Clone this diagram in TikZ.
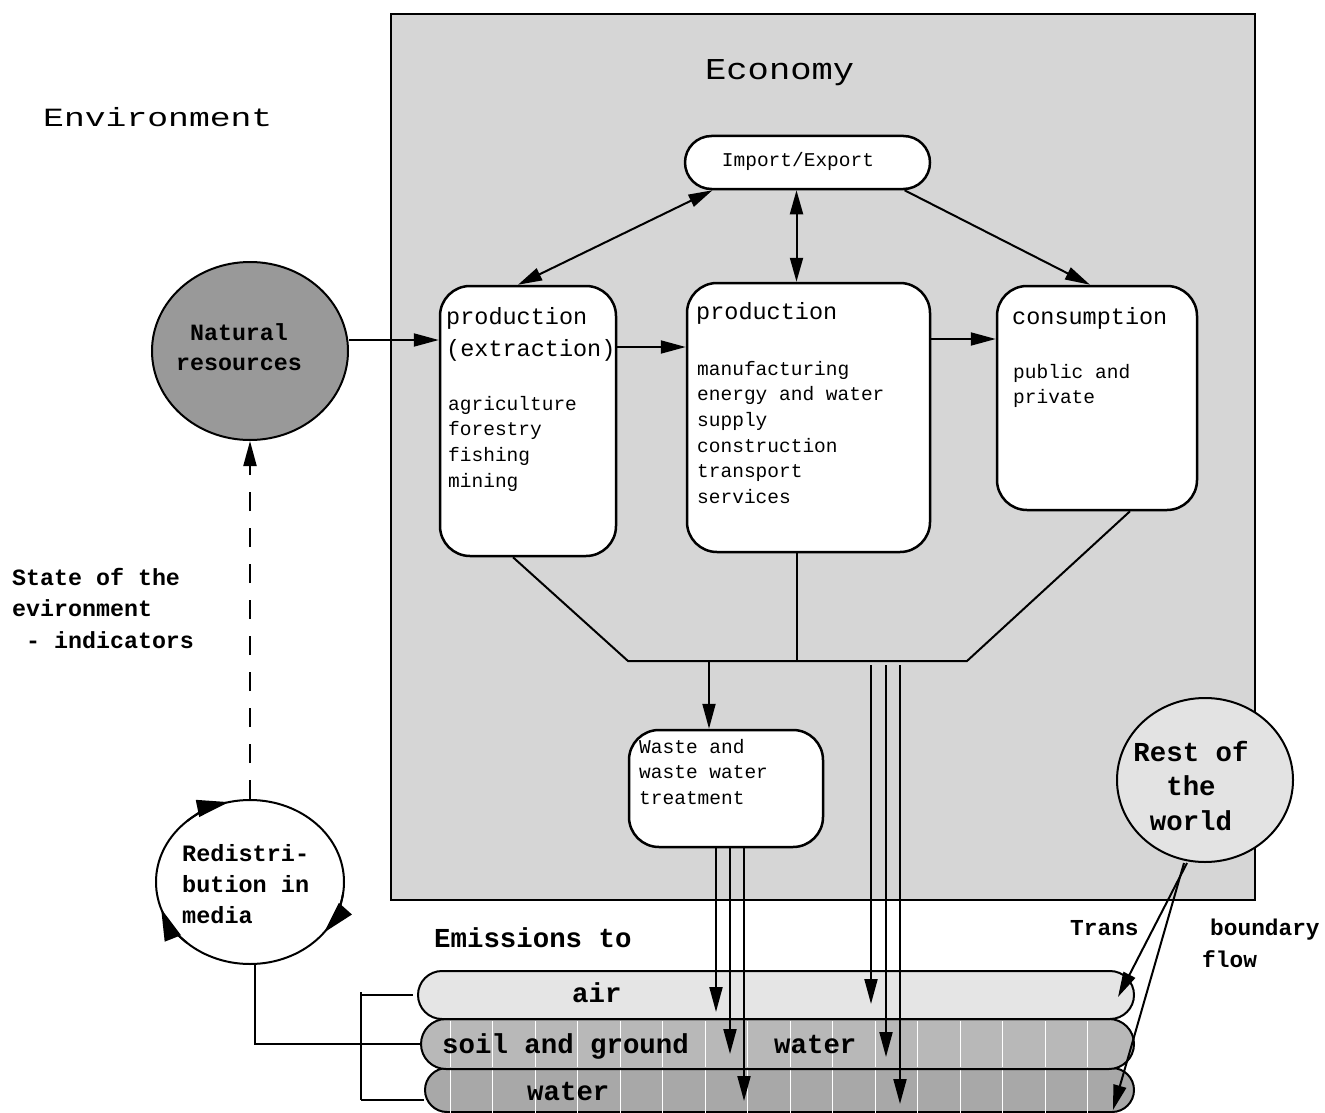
\documentclass[tikz,border=0pt]{standalone}
\usepackage{fontspec}
\setmonofont{Liberation Mono}
\newfontfamily\envfont[FakeStretch=1.32]{Liberation Mono}
\newfontfamily\ecofont[FakeStretch=1.17]{Liberation Mono}
\usetikzlibrary{arrows.meta,shapes.geometric}
\newcommand\setfs[2]{\fontsize{#1}{#2}\selectfont}

\tikzset{
  econfill/.style={fill=black!16},
  box/.style={draw, line width=2.5pt, fill=white, rounded corners=30pt, inner sep=0pt},
  oval/.style={draw, ellipse, line width=2pt, inner sep=0pt},
  bar/.style={draw, line width=2pt, inner sep=0pt},
  txt/.style={inner sep=0pt, align=left, anchor=north west},
  body/.style={font=\ttfamily\setfs{19.5}{25.7}},
  head/.style={font=\ttfamily\setfs{23.5}{32}},
  bold/.style={font=\ttfamily\bfseries\setfs{23.3}{31.5}},
  bigbold/.style={font=\ttfamily\bfseries\setfs{27.4}{34.5}},
  ln/.style={line width=2pt},
  arr/.style={line width=2pt, -{Triangle[length=25pt,width=13pt]}},
  darr/.style={line width=2pt, {Triangle[length=24pt,width=13pt]}-{Triangle[length=24pt,width=13pt]}},
  cyc/.style={line width=2pt, -{Triangle[length=32pt,width=17pt]}},
  stripe/.style={white, line width=0.9pt},
}

\begin{document}
\begin{tikzpicture}[x=1pt,y=-1pt]
\useasboundingbox (0,0) rectangle (1325,1113);
\fill[white] (0,0) rectangle (1325,1113);

% economy frame
\node[draw, line width=2pt, econfill, minimum width=864pt, minimum height=886pt, inner sep=0pt]
  (econ) at (823,457) {};
\node[anchor=base west, inner sep=0pt, font=\ecofont\setfs{30.3}{34}] (econlbl) at (705,80) {Economy};
\node[anchor=base west, inner sep=0pt, font=\envfont\setfs{26.3}{30}] (envlbl) at (43,127) {Environment};

% outer circles
\node[oval, fill=black!40, minimum width=196pt, minimum height=178pt] (natres) at (250,351) {};
\node[oval, fill=white, minimum width=188pt, minimum height=164pt] (redist) at (250,882) {};
\node[oval, fill=black!11, minimum width=176pt, minimum height=164pt] (rw) at (1205,780) {};

% economy boxes
\node[box, rounded corners=26.5pt, minimum width=245pt, minimum height=53pt] (ie) at (807.5,162.5) {};
\node[box, minimum width=176pt, minimum height=270pt] (prod1) at (528,421) {};
\node[box, minimum width=243pt, minimum height=269pt] (prod2) at (808.5,417.5) {};
\node[box, minimum width=200pt, minimum height=224pt] (cons) at (1097,398) {};
\node[box, minimum width=194pt, minimum height=117pt] (waste) at (726,788.5) {};

% emission media bands
\node[bar, fill=black!34, rounded corners=22pt, minimum width=709pt, minimum height=44pt] (waterbar) at (779.5,1090) {};
\foreach \x in {450,492.5,...,1090} \draw[stripe] (\x,1070) -- (\x,1113);
\node[bar, fill=black!28, rounded corners=25pt, minimum width=713pt, minimum height=50pt] (soilbar) at (777.5,1044) {};
\foreach \x in {450,492.5,...,1090} \draw[stripe] (\x,1021) -- (\x,1067);
\node[bar, fill=black!10, rounded corners=24pt, minimum width=716pt, minimum height=48pt] (airbar) at (776,995) {};

% texts
\node[anchor=base, inner sep=0pt, body] (ietxt) at (798,167) {Import/Export};
\node[txt, head] (p1head) at (446,301.6) {\strut production\\(extraction)};
\node[txt, body] (p1body) at (448,392) {\strut agriculture\\forestry\\fishing\\mining};
\node[anchor=base west, inner sep=0pt, head] (p2head) at (696,319) {production};
\node[txt, body] (p2body) at (697,357) {\strut manufacturing\\energy and water\\supply\\construction\\transport\\services};
\node[anchor=base west, inner sep=0pt, head] (conshead) at (1012,324) {consumption};
\node[txt, body] (consbody) at (1013,360) {\strut public and\\private};
\node[txt, body] (wastetxt) at (639,735) {\strut Waste and\\waste water\\treatment};
\node[inner sep=0pt, align=center, anchor=north, font=\ttfamily\bfseries\setfs{23.3}{30}] (natlbl) at (239,319) {\strut Natural\\resources};
\node[txt, bold] (statelbl) at (12,563) {\strut State of the\\evironment\\\ - indicators};
\node[txt, bold, font=\ttfamily\bfseries\setfs{23.5}{31}] (redlbl) at (182,839.3) {\strut Redistri-\\bution in\\media};
\node[inner sep=0pt, align=center, anchor=north, bigbold] (rwlbl) at (1191,736.9) {\strut Rest of\\the\\world};
\node[anchor=base west, inner sep=0pt, bigbold] (emlbl) at (434,947) {Emissions to};
\node[anchor=base west, inner sep=0pt, bigbold] (airlbl) at (572,1002) {air};
\node[anchor=base west, inner sep=0pt, bigbold] (soillbl) at (442,1053) {soil and ground};
\node[anchor=base west, inner sep=0pt, bigbold] (watlbl1) at (774,1053) {water};
\node[anchor=base west, inner sep=0pt, bigbold] (watlbl2) at (527,1100) {water};
\node[anchor=base west, inner sep=0pt, font=\ttfamily\bfseries\setfs{22.8}{32}] (translbl) at (1070,935) {Trans};
\node[anchor=base west, inner sep=0pt, font=\ttfamily\bfseries\setfs{22.8}{32}] (boundlbl) at (1210,935) {boundary};
\node[anchor=base west, inner sep=0pt, font=\ttfamily\bfseries\setfs{22.8}{32}] (flowlbl) at (1202,967) {flow};

% flows between sectors
\draw[arr] ([yshift=11pt]natres.east) -- ([yshift=81pt]prod1.west);
\draw[arr] ([yshift=74pt]prod1.east) -- ([yshift=70.5pt]prod2.west);
\draw[arr] ([yshift=78.5pt]prod2.east) -- ([yshift=59pt]cons.west);
\draw[darr] ([xshift=-95pt]ie.south) -- ([xshift=-10pt]prod1.north);
\draw[darr] ([xshift=-11pt]ie.south) -- ([xshift=-11pt]ie.south |- prod2.north);
\draw[arr] ([xshift=97pt]ie.south) -- ([xshift=-7pt]cons.north);

% residual collector
\coordinate (cl) at (628,661);
\coordinate (cr) at (967,661);
\draw[ln] ([xshift=-15pt]prod1.south) -- (cl) -- (cr) -- ([xshift=33pt]cons.south);
\coordinate (p2b) at ([xshift=-11.5pt]prod2.south);
\draw[ln] (p2b) -- (p2b |- cl);
\coordinate (wt) at ([xshift=-17pt]waste.north);
\draw[arr] (wt |- cl) -- (wt);

% emission levels in the media bands
\coordinate (la1) at ([yshift=-17pt]airbar.center);
\coordinate (ls1) at ([yshift=-10pt]soilbar.center);
\coordinate (lw1) at ([yshift=-11pt]waterbar.center);
\coordinate (la2) at ([yshift=-9pt]airbar.center);
\coordinate (ls2) at ([yshift=-13pt]soilbar.center);
\coordinate (lw2) at ([yshift=-14pt]waterbar.center);

% emissions after treatment
\coordinate (w1) at ([xshift=-10pt]waste.south);
\coordinate (w2) at ([xshift=4pt]waste.south);
\coordinate (w3) at ([xshift=18pt]waste.south);
\draw[arr] (w1) -- (w1 |- la1);
\draw[arr] (w2) -- (w2 |- ls1);
\draw[arr] (w3) -- (w3 |- lw1);

% direct emissions
\coordinate (e1) at ([xshift=-96pt,yshift=-4pt]cr);
\coordinate (e2) at ([xshift=-81pt,yshift=-4pt]cr);
\coordinate (e3) at ([xshift=-67pt,yshift=-4pt]cr);
\draw[arr] (e1) -- (e1 |- la2);
\draw[arr] (e2) -- (e2 |- ls2);
\draw[arr] (e3) -- (e3 |- lw2);

% transboundary flows
\draw[arr] ([xshift=-18pt]rw.south) -- ([xshift=-17pt,yshift=-2pt]airbar.east);
\draw[arr] ([xshift=-21pt]rw.south) -- ([xshift=-22pt,yshift=-20pt]waterbar.east);

% media bracket and redistribution link
\coordinate (bt) at ([xshift=-56pt]airbar.west);
\coordinate (bb) at ([xshift=-63pt,yshift=-10pt]waterbar.west);
\draw[ln] ([yshift=3pt]bt) -- (bb);
\draw[ln] ([xshift=-4pt]airbar.west) -- (bt);
\draw[ln] (bb) -- ([yshift=-10pt]waterbar.west);
\draw[ln] ([xshift=5pt]redist.south) |- (soilbar.west);

% redistribution cycle
\draw[cyc] ([shift={(132:94pt and 82pt)}]redist.center) arc[start angle=132, end angle=103, x radius=94pt, y radius=82pt];
\draw[cyc] ([shift={(-8:94pt and 82pt)}]redist.center) arc[start angle=-8, end angle=-38, x radius=94pt, y radius=82pt];
\draw[cyc] ([shift={(228:94pt and 82pt)}]redist.center) arc[start angle=228, end angle=199, x radius=94pt, y radius=82pt];

% state indicators
\draw[line width=2pt, dash pattern=on 19pt off 17pt, -{Triangle[length=25pt,width=13pt]}] (redist.north) -- (natres.south);
\end{tikzpicture}
\end{document}
